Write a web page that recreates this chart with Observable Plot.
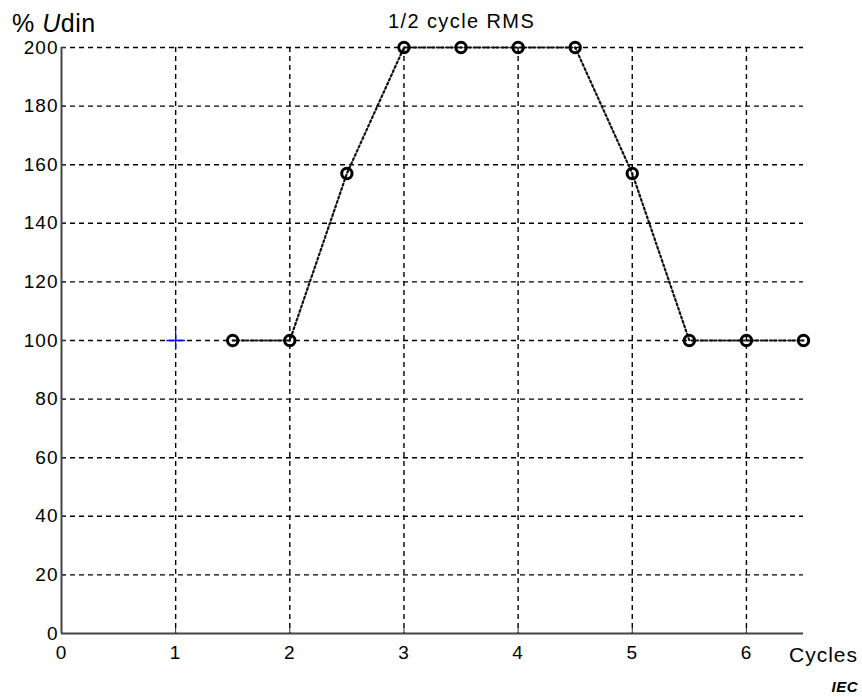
<!DOCTYPE html>
<html><head><meta charset="utf-8">
<script src="https://cdn.jsdelivr.net/npm/d3@7"></script>
<script src="https://cdn.jsdelivr.net/npm/@observablehq/plot@0.6"></script>
<style>body{margin:0;background:#fff;} svg{display:block;}</style>
</head><body><div id="chart"></div>
<script>
const cycles = [1.5, 2, 2.5, 3, 3.5, 4, 4.5, 5, 5.5, 6, 6.5];
const udin = [100, 100, 157, 200, 200, 200, 200, 157, 100, 100, 100];
const markerX = [1];
const markerY = [100];
const xTicks = [0, 1, 2, 3, 4, 5, 6];
const yTicks = [0, 20, 40, 60, 80, 100, 120, 140, 160, 180, 200];
const gridXTicks = [1, 2, 3, 4, 5, 6];
const gridYTicks = [20, 40, 60, 80, 100, 120, 140, 160, 180, 200];

const data = cycles.map((c, i) => ({x: c, y: udin[i]}));
const marker = markerX.map((c, i) => ({x: c, y: markerY[i]}));

const chart = Plot.plot({
  width: 862, height: 697,
  marginLeft: 61, marginRight: 59, marginTop: 47, marginBottom: 64,
  style: {fontFamily: "'Liberation Sans', Arial, sans-serif", fontSize: "19px", letterSpacing: "1px", color: "#000", background: "#fff"},
  x: {domain: [0, 6.5]},
  y: {domain: [0, 200]},
  marks: [
    Plot.gridX(gridXTicks, {stroke: "#000", strokeOpacity: 1, strokeWidth: 1.4, strokeDasharray: "5,4"}),
    Plot.gridY(gridYTicks, {stroke: "#000", strokeOpacity: 1, strokeWidth: 1.4, strokeDasharray: "5,4"}),
    Plot.axisX(xTicks, {tickSize: -5, tickPadding: 17, tickFormat: "d", label: null, stroke: "#333"}),
    Plot.axisY(yTicks, {tickSize: -5, tickPadding: 8, tickFormat: "d", label: null, stroke: "#333"}),
    Plot.ruleY([0], {stroke: "#444", strokeWidth: 2}),
    Plot.ruleX([0], {stroke: "#444", strokeWidth: 2}),
    Plot.line(data, {x: "x", y: "y", stroke: "#111", strokeWidth: 2.2, strokeDasharray: "2,2.6"}),
    Plot.dot(data, {x: "x", y: "y", r: 5.2, stroke: "#000", strokeWidth: 3, fill: "none"}),
    Plot.dot(marker, {x: "x", y: "y", symbol: "plus", r: 6, stroke: "#0000ff", strokeWidth: 1.3})
  ]
});

const svg = d3.select(chart);
const f = "'Liberation Sans', Arial, sans-serif";
const t1 = svg.append("text").attr("x", 12).attr("y", 32).attr("text-anchor", "start").attr("font-size", 25).attr("letter-spacing", "0.5px").attr("font-family", f).attr("fill", "#000");
t1.append("tspan").text("% ");
t1.append("tspan").attr("font-style", "italic").text("U");
t1.append("tspan").text("din");
svg.append("text").attr("x", 388).attr("y", 28).attr("text-anchor", "start").attr("font-size", 20).attr("letter-spacing", "1.4px").attr("font-family", f).attr("fill", "#000").text("1/2 cycle RMS");
svg.append("text").attr("x", 789).attr("y", 662).attr("text-anchor", "start").attr("font-size", 21).attr("letter-spacing", "1px").attr("font-family", f).attr("fill", "#000").text("Cycles");
svg.append("text").attr("x", 858).attr("y", 692).attr("text-anchor", "end").attr("font-size", 15).attr("letter-spacing", "0.5px").attr("font-style", "italic").attr("font-weight", "bold").attr("font-family", f).attr("fill", "#000").text("IEC");

document.getElementById("chart").appendChild(chart);
</script>
</body></html>
